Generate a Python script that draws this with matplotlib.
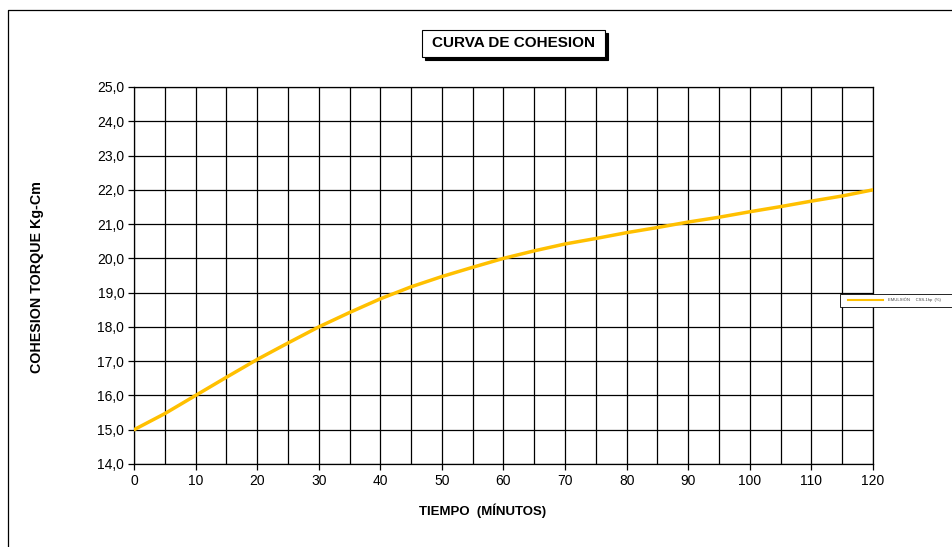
import matplotlib.pyplot as plt
import numpy as np
from matplotlib.lines import Line2D
from matplotlib.patches import Rectangle
from matplotlib.ticker import FuncFormatter, MultipleLocator

plt.rcParams['font.family'] = ['Liberation Sans', 'DejaVu Sans']

# cohesion test readings
minutos = [0, 5, 10, 15, 20, 25, 30, 35, 40, 45, 50, 55, 60,
           65, 70, 75, 80, 85, 90, 95, 100, 105, 110, 115, 120]
torque = [15.0, 15.47, 16.0, 16.53, 17.05, 17.53, 18.0, 18.42, 18.82, 19.17, 19.47, 19.74, 20.0,
          20.22, 20.42, 20.58, 20.75, 20.9, 21.06, 21.2, 21.36, 21.51, 21.67, 21.82, 22.0]
serie = "EMULSIÓN     CSS-1hp  (%)"

W, H = 953, 547
fig = plt.figure(figsize=(W / 100, H / 100), dpi=100)
ax = fig.add_axes([134 / W, 1 - 464 / H, (873 - 134) / W, (464 - 87) / H])

ax.plot(minutos, torque, color='#FFC000', lw=2.5, solid_capstyle='round',
        solid_joinstyle='round', zorder=3)

ax.set_xlim(0, 120)
ax.set_ylim(14, 25)
ax.xaxis.set_major_locator(MultipleLocator(10))
ax.xaxis.set_minor_locator(MultipleLocator(5))
ax.yaxis.set_major_locator(MultipleLocator(1))
ax.yaxis.set_major_formatter(FuncFormatter(lambda v, p: f"{v:.1f}".replace('.', ',')))
ax.grid(which='both', color='black', lw=0.9)
ax.tick_params(which='major', direction='out', length=4, width=0.9, labelsize=10, colors='black', pad=3)
ax.tick_params(which='minor', length=0)
for s in ax.spines.values():
    s.set_color('black')
    s.set_linewidth(0.9)

ax.set_xlabel("TIEMPO  (MÍNUTOS)", fontsize=9.5, fontweight='bold')
ax.set_ylabel("COHESION TORQUE Kg-Cm", fontsize=10.3, fontweight='bold')
ax.xaxis.set_label_coords(0.472, -0.105)
ax.yaxis.set_label_coords(-0.122, 0.495)

# title box with drop shadow
bx, by, bw, bh = 422 / W, 1 - 57 / H, 183 / W, 27 / H
fig.add_artist(Rectangle((bx + 3 / W, by - 3 / H), bw, bh, transform=fig.transFigure,
                         facecolor='black', edgecolor='black', lw=0.8))
fig.add_artist(Rectangle((bx, by), bw, bh, transform=fig.transFigure,
                         facecolor='white', edgecolor='black', lw=0.8))
fig.text(bx + bw / 2, by + bh / 2, "CURVA DE COHESION", ha='center', va='center',
         fontsize=11, fontweight='bold')

# legend box at the right edge
lx0, ly0 = 840 / W, 1 - 307 / H
fig.add_artist(Rectangle((lx0, ly0), 130 / W, 13 / H, transform=fig.transFigure,
                         facecolor='white', edgecolor='black', lw=0.6))
fig.add_artist(Line2D([848 / W, 883 / W], [1 - 300 / H] * 2, transform=fig.transFigure,
                      color='#FFC000', lw=1.5))
fig.text(888 / W, 1 - 300 / H, serie, fontsize=3, va='center', color='#444444')

# outer chart frame
fig.add_artist(Line2D([8 / W, 8 / W, 1.0], [0.0, 1 - 10 / H, 1 - 10 / H],
                      transform=fig.transFigure, color='black', lw=0.9))

fig.savefig('out.png', dpi=100)
